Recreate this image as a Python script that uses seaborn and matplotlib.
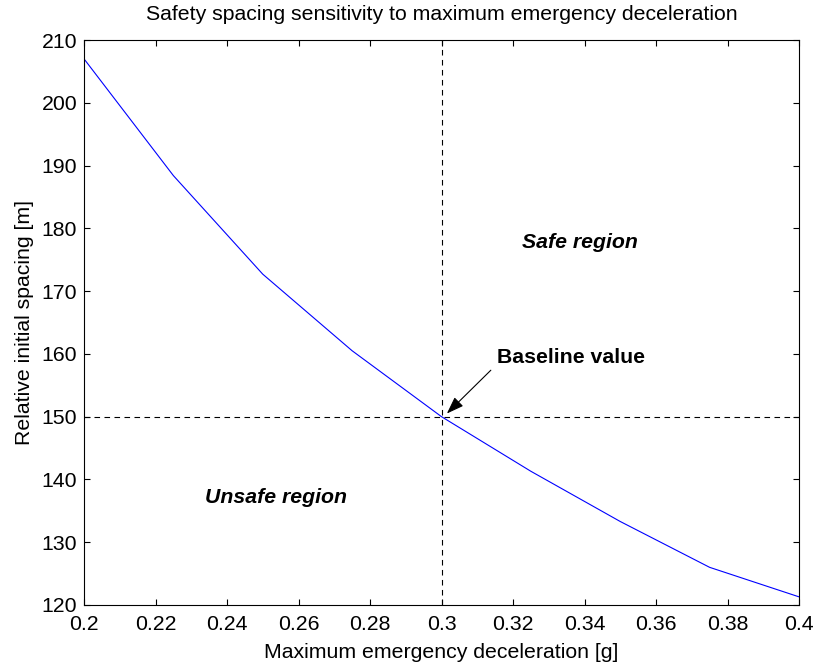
import matplotlib
matplotlib.use("Agg")
import matplotlib.pyplot as plt
import seaborn as sns
import pandas as pd

decel = [0.2, 0.225, 0.25, 0.275, 0.3, 0.325, 0.35, 0.375, 0.4]
spacing = [207.0, 188.4, 172.7, 160.5, 150.0, 141.3, 133.3, 126.0, 121.3]
xticks = [0.2, 0.22, 0.24, 0.26, 0.28, 0.3, 0.32, 0.34, 0.36, 0.38, 0.4]
xtick_labels = ["0.2", "0.22", "0.24", "0.26", "0.28", "0.3", "0.32", "0.34", "0.36", "0.38", "0.4"]
yticks = [120, 130, 140, 150, 160, 170, 180, 190, 200, 210]
baseline_x = 0.3
baseline_y = 150

sns.set_theme(style="ticks")
plt.rcParams['font.family'] = ['Liberation Sans', 'DejaVu Sans']
plt.rcParams['text.color'] = 'black'
plt.rcParams['axes.labelcolor'] = 'black'
plt.rcParams['xtick.color'] = 'black'
plt.rcParams['ytick.color'] = 'black'

FS = 15.3

fig = plt.figure(figsize=(8.15, 6.69), dpi=100)
ax = fig.add_axes([84/815, 1-605/669, 715/815, 565/669])

df = pd.DataFrame({"decel": decel, "spacing": spacing})
sns.lineplot(data=df, x="decel", y="spacing", ax=ax, color="#0000ff", linewidth=0.8)

ax.axvline(baseline_x, color="black", linestyle=(0, (5, 4)), linewidth=0.8)
ax.axhline(baseline_y, color="black", linestyle=(0, (5, 4)), linewidth=0.8)

ax.set_xlim(0.2, 0.4)
ax.set_ylim(120, 210)
ax.set_xticks(xticks)
ax.set_xticklabels(xtick_labels)
ax.set_yticks(yticks)

for s in ax.spines.values():
    s.set_visible(True)
    s.set_linewidth(0.8)
    s.set_color("black")
ax.tick_params(direction="in", top=True, right=True, length=4.5, width=0.8,
               labelsize=FS, colors="black")
ax.tick_params(axis="x", pad=7.5)
ax.tick_params(axis="y", pad=5)

ax.set_xlabel("Maximum emergency deceleration [g]", fontsize=FS, labelpad=6)
ax.set_ylabel("Relative initial spacing [m]", fontsize=FS, labelpad=5)
ax.set_title("Safety spacing sensitivity to maximum emergency deceleration", fontsize=FS, pad=14.5)

ax.text(0.3225, 177.8, "Safe region", fontsize=FS, fontweight="bold", fontstyle="italic",
        ha="left", va="center")
ax.text(0.2338, 137.2, "Unsafe region", fontsize=FS, fontweight="bold", fontstyle="italic",
        ha="left", va="center")
ax.text(0.3155, 159.5, "Baseline value", fontsize=FS, fontweight="bold", ha="left", va="center")
ax.annotate("", xy=(0.3015, 150.5), xytext=(0.3138, 157.4),
            arrowprops=dict(arrowstyle="-|>,head_length=0.7,head_width=0.25", color="black",
                            lw=0.8, mutation_scale=15, shrinkA=0, shrinkB=0))

fig.savefig("out.png", dpi=100, facecolor="white")
